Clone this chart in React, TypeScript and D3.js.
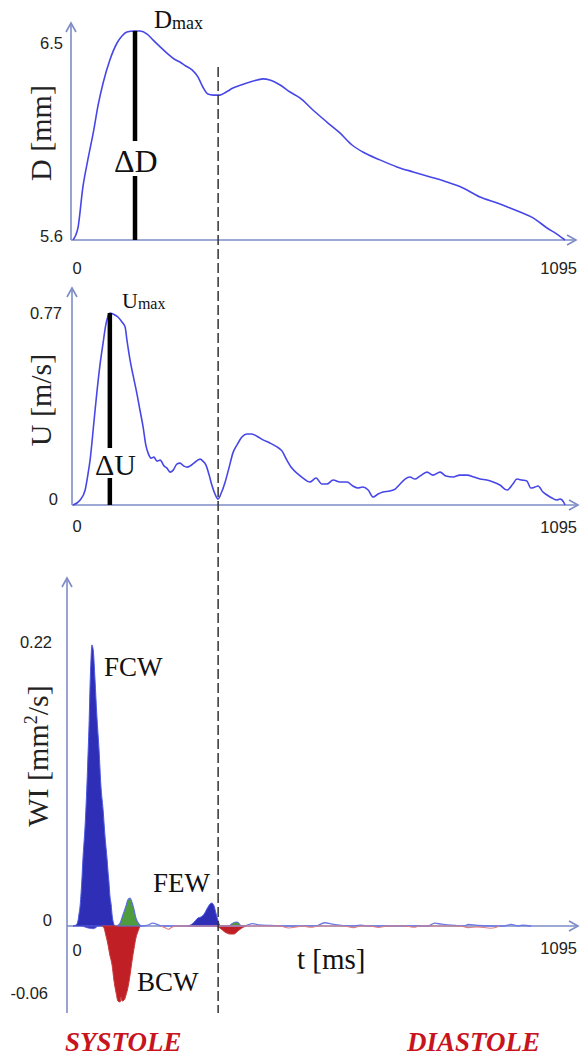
import React from "react";
import * as d3 from "d3";

// ---------- DATA ----------
const tMax = 1095;
const dTicks = [5.6, 6.5];
const uTicks = [0, 0.77];
const wiTicks = [-0.06, 0, 0.22];
const xTickLabels = ["0", "1095"];
const tDashed = 323;
const tDmax = 138;
const tUmax = 82;

// Diameter D [mm] vs t [ms]
const diameter: [number, number][] = [
  [0, 5.6], [11, 5.655], [22, 5.842], [33, 5.966], [45, 6.089], [56, 6.217], [67, 6.317],
  [82, 6.422], [98, 6.5], [109, 6.532], [120, 6.55], [136, 6.555], [149, 6.555], [165, 6.541],
  [178, 6.514], [194, 6.482], [209, 6.454], [225, 6.427], [238, 6.413], [251, 6.395], [265, 6.377],
  [278, 6.345], [289, 6.299], [300, 6.267], [312, 6.262], [327, 6.262], [341, 6.276], [356, 6.294],
  [374, 6.308], [394, 6.322], [410, 6.331], [423, 6.336], [438, 6.331], [461, 6.308], [483, 6.276],
  [505, 6.249], [534, 6.194], [565, 6.139], [594, 6.089], [621, 6.034], [645, 6.002], [683, 5.966],
  [721, 5.934], [757, 5.911], [795, 5.888], [832, 5.865], [868, 5.838], [906, 5.796], [944, 5.769],
  [973, 5.746], [995, 5.728], [1024, 5.701], [1055, 5.655], [1077, 5.627], [1095, 5.6],
];

// Velocity U [m/s] vs t [ms]
const velocity: [number, number][] = [
  [0, 0], [16, 0.02], [27, 0.06], [33, 0.12], [38, 0.18], [47, 0.341], [53, 0.449], [60, 0.561],
  [67, 0.65], [73, 0.722], [78, 0.758], [82, 0.77], [89, 0.766], [100, 0.754], [109, 0.734],
  [116, 0.714], [120, 0.662], [127, 0.581], [136, 0.501], [142, 0.449], [149, 0.381], [156, 0.313],
  [162, 0.241], [167, 0.209], [174, 0.188], [180, 0.192], [187, 0.176], [194, 0.18], [203, 0.156],
  [209, 0.148], [216, 0.132], [223, 0.14], [231, 0.164], [238, 0.168], [247, 0.156], [254, 0.152],
  [260, 0.156], [269, 0.168], [283, 0.184], [289, 0.176], [296, 0.16], [303, 0.12], [309, 0.08],
  [316, 0.044], [323, 0.024], [329, 0.044], [338, 0.088], [347, 0.148], [356, 0.209], [365, 0.241],
  [376, 0.273], [387, 0.285], [398, 0.285], [412, 0.273], [423, 0.261], [438, 0.249], [454, 0.233],
  [465, 0.217], [476, 0.18], [487, 0.148], [501, 0.124], [512, 0.108], [527, 0.092], [541, 0.108],
  [554, 0.084], [565, 0.084], [579, 0.1], [594, 0.092], [610, 0.092], [623, 0.076], [634, 0.068],
  [645, 0.072], [657, 0.06], [668, 0.032], [679, 0.044], [690, 0.052], [705, 0.056], [717, 0.064],
  [728, 0.084], [739, 0.104], [750, 0.112], [761, 0.104], [772, 0.116], [788, 0.132], [801, 0.12],
  [817, 0.132], [830, 0.116], [846, 0.112], [861, 0.12], [877, 0.12], [892, 0.112], [906, 0.104],
  [921, 0.1], [935, 0.092], [950, 0.08], [966, 0.06], [979, 0.084], [988, 0.104], [999, 0.1],
  [1010, 0.096], [1019, 0.068], [1028, 0.072], [1035, 0.076], [1046, 0.052], [1055, 0.04],
  [1066, 0.028], [1077, 0.02], [1084, 0.024], [1093, 0.008], [1095, 0],
];

// Wave intensity WI [mm²/s]
const fcw: [number, number][] = [
  [0, 0], [7, 0.0008], [11, 0.0039], [13, 0.0085], [16, 0.0163], [18, 0.0256], [20, 0.0372],
  [22, 0.0511], [27, 0.0782], [31, 0.1092], [33, 0.1286], [36, 0.1596], [38, 0.1867], [40, 0.2061],
  [42, 0.2177], [45, 0.2138], [49, 0.1906], [53, 0.1634], [58, 0.1363], [62, 0.1092], [67, 0.0899],
  [71, 0.0705], [76, 0.0511], [78, 0.0418], [80, 0.0341], [82, 0.024], [85, 0.0163], [87, 0.0085],
  [89, 0.0039], [93, 0],
];
const bcw: [number, number][] = [
  [65, 0], [69, -0.0018], [73, -0.0082], [78, -0.0173], [82, -0.0264], [87, -0.0355], [91, -0.0491],
  [96, -0.0609], [100, -0.0682], [105, -0.0691], [107, -0.0645], [109, -0.0682], [114, -0.0673],
  [118, -0.0627], [122, -0.0564], [127, -0.0445], [131, -0.0327], [136, -0.02], [140, -0.0109],
  [145, -0.0045], [149, 0],
];
const greenWave: [number, number][] = [
  [98, 0], [105, 0.0023], [111, 0.0085], [118, 0.0155], [122, 0.0201], [127, 0.0217], [131, 0.0186],
  [136, 0.0124], [140, 0.0062], [147, 0.0015], [151, 0],
];
const few: [number, number][] = [
  [256, 0], [265, 0.0015], [272, 0.0039], [278, 0.0062], [285, 0.007], [292, 0.0093], [298, 0.0132],
  [305, 0.017], [309, 0.0178], [314, 0.0155], [318, 0.0101], [323, 0.0039], [327, 0],
];
const lateNeg: [number, number][] = [
  [318, 0], [327, -0.0018], [338, -0.0055], [349, -0.0073], [358, -0.0073], [367, -0.0045],
  [376, -0.0018], [385, 0],
];
const lateGreen: [number, number][] = [[347, 0], [356, 0.0023], [365, 0.0031], [374, 0]];
const smallNeg: [number, number][] = [[20, 0], [45, -0.0025], [55, 0]];
const noisePos: [number, number][] = [
  [150, 0], [165, 0.0005], [178, 0.0022], [190, 0.0008], [200, 0], [380, 0], [400, 0.0018],
  [415, 0.0008], [440, 0.0004], [470, 0], [540, 0], [560, 0.0025], [580, 0.0012], [620, 0],
  [640, 0.0006], [660, 0], [790, 0], [805, 0.0022], [820, 0.0014], [850, 0.0004], [870, 0],
  [880, 0.0012], [900, 0.0004], [960, 0], [975, 0.0012], [990, 0], [1000, 0.0006], [1020, 0],
];
const noiseNeg: [number, number][] = [
  [195, 0], [205, -0.0015], [212, -0.003], [220, -0.0012], [230, 0], [460, 0], [480, -0.0018],
  [500, -0.0006], [510, 0], [530, -0.0012], [545, 0], [600, 0], [625, -0.0015], [640, 0],
  [660, 0], [680, -0.0014], [700, 0], [740, 0], [760, -0.0012], [770, 0], [860, 0], [880, -0.0015],
  [900, -0.0008], [930, -0.002], [950, 0],
];

// ---------- LAYOUT ----------
const W = 581;
const H = 1058;
const x = d3.scaleLinear().domain([0, tMax]).range([73, 565]);
const yD = d3.scaleLinear().domain([5.6, 6.5]).range([240, 43]);
const yU = d3.scaleLinear().domain([0, 0.77]).range([505, 313]);
const yW = d3.scaleLinear().domain([-0.06, 0, 0.22]).range([992, 926, 642]);

const axisColor = "#7d8cc6";
const curveColor = "#4747e8";
const serif = "'Liberation Serif', 'Times New Roman', serif";
const sans = "'Liberation Sans', Arial, sans-serif";

const lineGen = (ys: d3.ScaleLinear<number, number>) =>
  d3.line<[number, number]>().x((d) => x(d[0])).y((d) => ys(d[1])).curve(d3.curveMonotoneX);
const areaGen = d3
  .area<[number, number]>()
  .x((d) => x(d[0]))
  .y0(yW(0))
  .y1((d) => yW(d[1]))
  .curve(d3.curveMonotoneX);

function Axes({ ox, oy, tipY, tipX, bottomY }: { ox: number; oy: number; tipY: number; tipX: number; bottomY?: number }) {
  const by = bottomY ?? oy;
  return (
    <g stroke={axisColor} strokeWidth={1.6} fill="none">
      <line x1={ox} y1={by} x2={ox} y2={tipY} />
      <path d={`M${ox - 5},${tipY + 9} L${ox},${tipY} L${ox + 5},${tipY + 9}`} />
      <line x1={ox} y1={oy} x2={tipX} y2={oy} />
      <path d={`M${tipX - 9},${oy - 5} L${tipX},${oy} L${tipX - 9},${oy + 5}`} />
    </g>
  );
}

export default function App() {
  const tickStyle = { fontFamily: sans, fontSize: 16.5, fill: "#222" } as const;
  return (
    <svg width={W} height={H} style={{ position: "absolute", left: 0, top: 0, background: "#fff" }}>
      {/* ---------- Panel 1: Diameter ---------- */}
      <Axes ox={71} oy={yD(5.6)} tipY={23} tipX={576} />
      <path d={lineGen(yD)(diameter) ?? ""} fill="none" stroke={curveColor} strokeWidth={1.6} />
      <text x={63} y={yD(6.5)} dy="0.35em" textAnchor="end" {...tickStyle}>{dTicks[1]}</text>
      <text x={63} y={yD(5.6) - 4} dy="0.35em" textAnchor="end" {...tickStyle}>{dTicks[0]}</text>
      <text x={x(0) + 4} y={268} dy="0.35em" textAnchor="middle" {...tickStyle}>{xTickLabels[0]}</text>
      <text x={577} y={268} dy="0.35em" textAnchor="end" {...tickStyle}>{xTickLabels[1]}</text>
      <text transform={`translate(40,133) rotate(-90)`} textAnchor="middle" dy="0.35em"
        fontFamily={serif} fontSize={30} fill="#222">D [mm]</text>
      {/* Delta D */}
      <line x1={x(tDmax)} x2={x(tDmax)} y1={yD(6.555)} y2={141} stroke="#000" strokeWidth={4.5} />
      <line x1={x(tDmax)} x2={x(tDmax)} y1={176} y2={yD(5.6)} stroke="#000" strokeWidth={4.5} />
      <text x={114} y={172} fontFamily={serif} fontSize={32} fill="#111">ΔD</text>
      <text x={154} y={28} fontFamily={serif} fontSize={25} fill="#111">
        D<tspan fontSize={18} dy={1}>max</tspan>
      </text>

      {/* ---------- Panel 2: Velocity ---------- */}
      <Axes ox={72} oy={yU(0)} tipY={288} tipX={578} />
      <path d={lineGen(yU)(velocity) ?? ""} fill="none" stroke={curveColor} strokeWidth={1.6} />
      <text x={62} y={yU(0.77)} dy="0.35em" textAnchor="end" {...tickStyle}>{uTicks[1]}</text>
      <text x={58} y={yU(0) - 6} dy="0.35em" textAnchor="end" {...tickStyle}>{uTicks[0]}</text>
      <text x={x(0) + 4} y={526} dy="0.35em" textAnchor="middle" {...tickStyle}>{xTickLabels[0]}</text>
      <text x={577} y={527} dy="0.35em" textAnchor="end" {...tickStyle}>{xTickLabels[1]}</text>
      <text transform={`translate(40,400) rotate(-90)`} textAnchor="middle" dy="0.35em"
        fontFamily={serif} fontSize={30} fill="#222">U [m/s]</text>
      <line x1={x(tUmax)} x2={x(tUmax)} y1={yU(0.77)} y2={448} stroke="#000" strokeWidth={4.5} />
      <line x1={x(tUmax)} x2={x(tUmax)} y1={478} y2={yU(0)} stroke="#000" strokeWidth={4.5} />
      <text x={95} y={475} fontFamily={serif} fontSize={30} fill="#111">ΔU</text>
      <text x={122} y={308} fontFamily={serif} fontSize={22} fill="#111">
        U<tspan fontSize={16} dy={1}>max</tspan>
      </text>

      {/* ---------- Panel 3: Wave intensity ---------- */}
      <Axes ox={67} oy={yW(0)} tipY={578} tipX={578} bottomY={1013} />
      <path d={areaGen(fcw) ?? ""} fill="#2e2eb6" stroke="#4a58e0" strokeWidth={1} />
      <path d={areaGen(bcw) ?? ""} fill="#c01f26" stroke="#c83a3a" strokeWidth={1} />
      <path d={areaGen(greenWave) ?? ""} fill="#4f9c3c" stroke="#5a6ee2" strokeWidth={1.2} />
      <path d={areaGen(few) ?? ""} fill="#2e2eb6" stroke="#4a58e0" strokeWidth={1} />
      <path d={areaGen(lateNeg) ?? ""} fill="#c01f26" stroke="#c83a3a" strokeWidth={1} />
      <path d={areaGen(lateGreen) ?? ""} fill="#4f9c3c" stroke="#5a6ee2" strokeWidth={1} />
      <path d={areaGen(smallNeg) ?? ""} fill="#3a3ab8" stroke="#5a5ae0" strokeWidth={0.8} />
      <path d={lineGen(yW)(noisePos) ?? ""} fill="none" stroke="#6c78e6" strokeWidth={1.3} />
      <path d={lineGen(yW)(noiseNeg) ?? ""} fill="none" stroke="#e08080" strokeWidth={1.1} />
      <text x={52} y={yW(0.22)} dy="0.35em" textAnchor="end" {...tickStyle}>{wiTicks[2]}</text>
      <text x={52} y={yW(0) - 6} dy="0.35em" textAnchor="end" {...tickStyle}>{wiTicks[1]}</text>
      <text x={48} y={yW(-0.06) + 1} dy="0.35em" textAnchor="end" {...tickStyle}>{wiTicks[0]}</text>
      <text x={x(0) + 4} y={950} dy="0.35em" textAnchor="middle" {...tickStyle}>{xTickLabels[0]}</text>
      <text x={577} y={948} dy="0.35em" textAnchor="end" {...tickStyle}>{xTickLabels[1]}</text>
      <text transform={`translate(37,756) rotate(-90)`} textAnchor="middle" dy="0.35em"
        fontFamily={serif} fontSize={30} fill="#222">
        WI [mm<tspan fontSize={18} dy={-11}>2</tspan><tspan dy={11}>/s]</tspan>
      </text>
      <text x={297} y={969} fontFamily={serif} fontSize={29} fill="#111">t [ms]</text>
      <text x={104} y={676} fontFamily={serif} fontSize={27} fill="#111">FCW</text>
      <text x={153} y={892} fontFamily={serif} fontSize={27} fill="#111">FEW</text>
      <text x={137} y={991} fontFamily={serif} fontSize={27} fill="#111">BCW</text>

      {/* dashed separator */}
      <line x1={x(tDashed)} x2={x(tDashed)} y1={67} y2={1013} stroke="#333" strokeWidth={1.5} strokeDasharray="10,4" />

      <text x={65} y={1051} fontFamily={serif} fontSize={27} fontStyle="italic" fontWeight="bold" fill="#c8141e">SYSTOLE</text>
      <text x={407} y={1051} fontFamily={serif} fontSize={27} fontStyle="italic" fontWeight="bold" fill="#c8141e">DIASTOLE</text>
    </svg>
  );
}
